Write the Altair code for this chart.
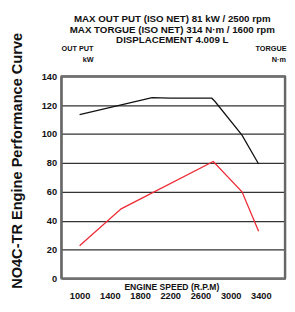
import altair as alt
import pandas as pd

# Data
out_rpm = [1000, 1960, 2200, 2750, 2790, 3150, 3370]
out_val = [113.5, 125.3, 124.8, 124.8, 122.7, 99.3, 79.3]
trq_rpm = [1000, 1550, 2770, 3150, 3370]
trq_val = [22.7, 48.2, 81.0, 60.0, 32.7]
x_ticks = [1000, 1400, 1800, 2200, 2600, 3000, 3400]
y_ticks = [0, 20, 40, 60, 80, 100, 120, 140]
header_lines = [
    "MAX OUT PUT (ISO NET) 81 kW / 2500 rpm",
    "MAX TORGUE (ISO NET) 314 N\u00b7m / 1600 rpm",
    "DISPLACEMENT 4.009 L",
]
left_unit = ["OUT PUT", "kW"]
right_unit = ["TORGUE", "N\u00b7m"]
x_title = "ENGINE SPEED (R.P.M)"
y_title = "NO4C-TR Engine Performance Curve"

FONT = "Liberation Sans"
W, H = 230, 208
XMIN, XMAX = 760, 3720
YMIN, YMAX = 0, 140

df_out = pd.DataFrame({"rpm": out_rpm, "val": out_val})
df_trq = pd.DataFrame({"rpm": trq_rpm, "val": trq_val})

xs = alt.Scale(domain=[XMIN, XMAX], nice=False, zero=False)
ys = alt.Scale(domain=[YMIN, YMAX], nice=False)

x_axis = alt.Axis(
    values=x_ticks, format="d", grid=False, domain=False, ticks=False,
    labelOverlap=False, labelFlush=False,
    labelFont=FONT, labelFontSize=9.5, labelFontWeight="bold", labelColor="#111",
    labelBaseline="middle", labelPadding=18,
    title=x_title, titleFont=FONT, titleFontSize=8.8, titleFontWeight="bold",
    titleColor="#111", titleBaseline="middle", titleY=8, titleX=W / 2 - 2,
)
y_axis = alt.Axis(
    values=y_ticks, format="d", grid=True, domain=False, ticks=False,
    labelOverlap=False, gridColor="#333333", gridWidth=1.3, gridOpacity=1,
    labelFont=FONT, labelFontSize=9.5, labelFontWeight="bold", labelColor="#111",
    labelPadding=5,
    title=y_title, titleFont=FONT, titleFontSize=15, titleFontWeight="bold",
    titleColor="#111", titleAngle=270, titleAlign="center",
    titleBaseline="alphabetic", titleX=-41, titleY=86.5,
)

# plot frame edges on the scale limits
df_vedge = pd.DataFrame({"rpm": [XMIN, XMAX]})
df_hedge = pd.DataFrame({"val": [YMIN, YMAX]})
vedges = alt.Chart(df_vedge).mark_rule(stroke="#666666", strokeWidth=2.5, opacity=1).encode(
    x=alt.X("rpm:Q", scale=xs, axis=x_axis),
    y=alt.value(0), y2=alt.value(H),
)
hedges = alt.Chart(df_hedge).mark_rule(stroke="#6f6f6f", strokeWidth=2, opacity=1).encode(
    y=alt.Y("val:Q", scale=ys, axis=y_axis),
    x=alt.value(0), x2=alt.value(W),
)

black = alt.Chart(df_out).mark_line(color="#111111", strokeWidth=1.3).encode(
    x=alt.X("rpm:Q", scale=xs, axis=x_axis),
    y=alt.Y("val:Q", scale=ys, axis=y_axis),
)
red = alt.Chart(df_trq).mark_line(color="#ee2a35", strokeWidth=1.3).encode(
    x=alt.X("rpm:Q", scale=xs, axis=x_axis),
    y=alt.Y("val:Q", scale=ys, axis=y_axis),
)


def label(text, x, y, size, align="center"):
    return alt.Chart(pd.DataFrame({"t": [text]})).mark_text(
        font=FONT, fontSize=size, fontWeight="bold", color="#111",
        align=align, baseline="middle",
    ).encode(text="t:N", x=alt.value(x), y=alt.value(y))


texts = [
    label(header_lines[0], 114, -59, 10),
    label(header_lines[1], 114, -48, 10),
    label(header_lines[2], 114, -37, 10),
    label(left_unit[0], 33, -28, 7.5, "right"),
    label(left_unit[1], 33, -17, 7.5, "right"),
    label(right_unit[0], 231.5, -28, 7.5, "right"),
    label(right_unit[1], 231, -17, 7.5, "right"),
]

chart = alt.layer(vedges, hedges, black, red, *texts).properties(
    width=W, height=H,
    autosize=alt.AutoSizeParams(type="none"),
    padding={"left": 55, "top": 66, "right": 2, "bottom": 22},
).configure_view(stroke="#777777", strokeWidth=2)

chart.save("out.html", embed_options={"renderer": "svg", "actions": False})
